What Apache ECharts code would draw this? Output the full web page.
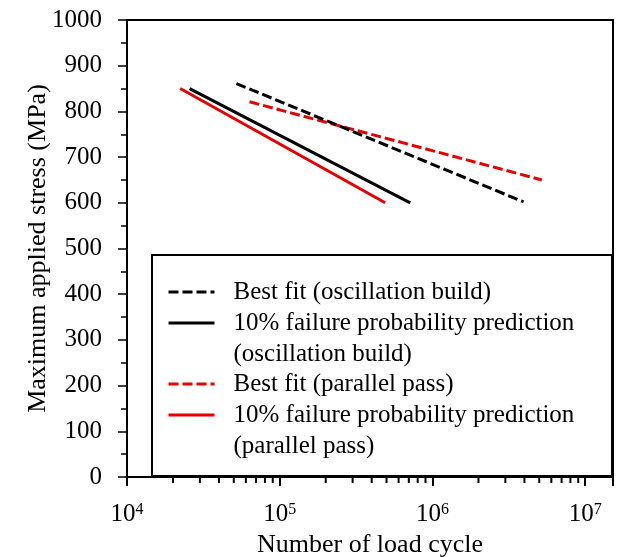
<!DOCTYPE html>
<html>
<head>
<meta charset="utf-8">
<script src="https://cdn.jsdelivr.net/npm/echarts@6/dist/echarts.min.js"></script>
<style>html,body{margin:0;padding:0;background:#fff;}#c{width:619px;height:557px;}</style>
</head>
<body>
<div id="c"></div>
<script>
// ---- data ----
const seriesNames = [
  'Best fit (oscillation build)',
  '10% failure probability prediction\n(oscillation build)',
  'Best fit (parallel pass)',
  '10% failure probability prediction\n(parallel pass)'
];
const bestFitOscCycles = [52000, 3950000];
const bestFitOscStress = [861, 602];
const tenPctOscCycles = [25700, 715000];
const tenPctOscStress = [850, 600];
const bestFitParCycles = [63400, 5200000];
const bestFitParStress = [821, 650];
const tenPctParCycles = [22300, 490000];
const tenPctParStress = [850, 600];
const xMinorTicks = [2e4,3e4,4e4,5e4,6e4,7e4,8e4,9e4,2e5,3e5,4e5,5e5,6e5,7e5,8e5,9e5,2e6,3e6,4e6,5e6,6e6,7e6,8e6,9e6];
const xTitle = 'Number of load cycle';
const yTitle = 'Maximum applied stress (MPa)';

function pairs(xs, ys) { return xs.map((x, i) => [x, ys[i]]); }

const FONT = 'Liberation Serif';
const BLACK = '#000000';
const RED = '#e60000';
const MINOR_TICK_LEN = 5;

const chart = echarts.init(document.getElementById('c'), null, {renderer: 'canvas'});

function legendFor(name, centerY, twoLine) {
  return {
    data: [name],
    left: 167,
    top: twoLine ? centerY - 46.5 : centerY - 15.5,
    padding: 0,
    itemWidth: 46,
    itemHeight: 14,
    selectedMode: false,
    z: 6,
    lineStyle: {width: 3},
    itemStyle: {opacity: 0},
    formatter: twoLine ? (n => ' \n' + n) : (n => n),
    textStyle: {
      fontFamily: FONT, fontSize: 25, color: '#000', lineHeight: 31,
      padding: [0, 0, 0, 14]
    }
  };
}

const option = {
  backgroundColor: '#fff',
  animation: false,
  grid: {left: 127, right: 6, top: 20, bottom: 80, show: true, borderColor: '#000', borderWidth: 2,
         outerBoundsMode: 'none', containLabel: false},
  legend: [
    legendFor(seriesNames[0], 292, false),
    legendFor(seriesNames[1], 323, true),
    legendFor(seriesNames[2], 384, false),
    legendFor(seriesNames[3], 415, true)
  ],
  graphic: [{
    type: 'rect', z: 3,
    shape: {x: 152, y: 255, width: 460, height: 221},
    style: {fill: '#fff', stroke: '#000', lineWidth: 2}
  }],
  xAxis: {
    type: 'log', logBase: 10, min: 1e4, max: 1.52e7,
    name: xTitle, nameLocation: 'middle', nameGap: 55, nameMoveOverlap: false,
    nameTextStyle: {fontFamily: FONT, fontSize: 26, color: '#000'},
    axisLine: {show: true, lineStyle: {color: '#000', width: 2}},
    axisTick: {show: true, length: 9, lineStyle: {color: '#000', width: 2}},
    axisLabel: {
      margin: 25, color: '#000',
      fontFamily: FONT, fontSize: 25,
      formatter: v => {
        const e = Math.log10(v);
        return Math.abs(e - Math.round(e)) < 1e-6 ? '10{sup|' + Math.round(e) + '}' : '';
      },
      rich: {sup: {fontFamily: FONT, fontSize: 16, verticalAlign: 'top', color: '#000'}}
    },
    splitLine: {show: false},
    minorTick: {show: false}
  },
  yAxis: {
    type: 'value', min: 0, max: 1000, interval: 100,
    name: yTitle, nameLocation: 'middle', nameGap: 76, nameMoveOverlap: false,
    nameTextStyle: {fontFamily: FONT, fontSize: 26, color: '#000'},
    axisLine: {show: true, lineStyle: {color: '#000', width: 2}},
    axisTick: {show: true, length: 9, lineStyle: {color: '#000', width: 1.5}},
    minorTick: {show: true, splitNumber: 2, length: 6, lineStyle: {color: '#000', width: 1.5}},
    axisLabel: {margin: 25, color: '#000', fontFamily: FONT, fontSize: 25, formatter: v => String(v)},
    splitLine: {show: false}
  },
  series: [
    {name: seriesNames[0], type: 'line', symbol: 'none', data: pairs(bestFitOscCycles, bestFitOscStress),
     lineStyle: {color: BLACK, width: 3, type: [10, 4]}, itemStyle: {color: BLACK}, z: 4},
    {name: seriesNames[1], type: 'line', symbol: 'none', data: pairs(tenPctOscCycles, tenPctOscStress),
     lineStyle: {color: BLACK, width: 3}, itemStyle: {color: BLACK}, z: 4},
    {name: seriesNames[2], type: 'line', symbol: 'none', data: pairs(bestFitParCycles, bestFitParStress),
     lineStyle: {color: RED, width: 3, type: [10, 4]}, itemStyle: {color: RED}, z: 3},
    {name: seriesNames[3], type: 'line', symbol: 'none', data: pairs(tenPctParCycles, tenPctParStress),
     lineStyle: {color: RED, width: 3}, itemStyle: {color: RED}, z: 3},
    {
      name: 'minorTicks', type: 'custom', silent: true, clip: false, z: 5,
      data: xMinorTicks.map(v => [v, 0]),
      encode: {x: 0, y: 1},
      renderItem: (params, api) => {
        const p = api.coord([api.value(0), 0]);
        return {
          type: 'line',
          shape: {x1: p[0], y1: p[1], x2: p[0], y2: p[1] + 1 + MINOR_TICK_LEN},
          style: {stroke: '#000', lineWidth: 2}
        };
      }
    }
  ]
};
chart.setOption(option);
</script>
</body>
</html>
